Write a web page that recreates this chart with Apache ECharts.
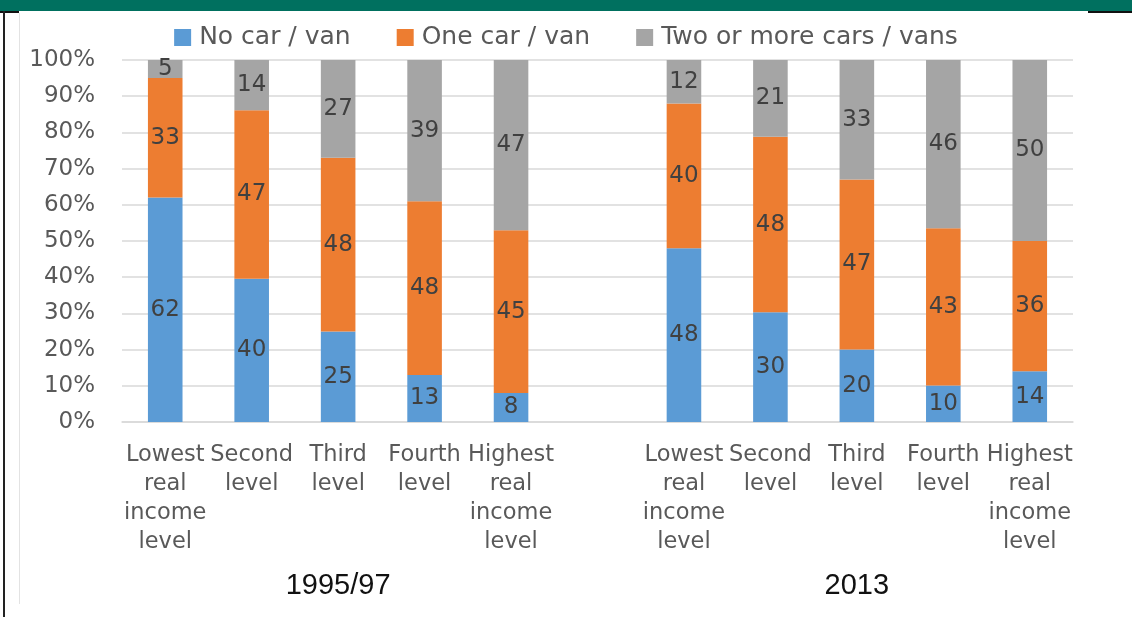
<!DOCTYPE html>
<html>
<head>
<meta charset="utf-8">
<script src="https://cdn.jsdelivr.net/npm/echarts@6/dist/echarts.min.js"></script>
<style>
  html, body { margin: 0; padding: 0; background: #fff; }
  #chart { width: 1132px; height: 617px; }
</style>
</head>
<body>
<div id="chart"></div>
<script>
// categories (an empty slot separates the two survey periods)
const categories = [
  'Lowest\nreal\nincome\nlevel', 'Second\nlevel', 'Third\nlevel', 'Fourth\nlevel', 'Highest\nreal\nincome\nlevel',
  '',
  'Lowest\nreal\nincome\nlevel', 'Second\nlevel', 'Third\nlevel', 'Fourth\nlevel', 'Highest\nreal\nincome\nlevel'
];
const groupLabels = ['', '', '1995/97', '', '', '', '', '', '2013', '', ''];
const seriesNames = ['No car / van', 'One car / van', 'Two or more cars / vans'];
const noCar = [62, 40, 25, 13, 8, null, 48, 30, 20, 10, 14];
const oneCar = [33, 47, 48, 48, 45, null, 40, 48, 47, 43, 36];
const twoCars = [5, 14, 27, 39, 47, null, 12, 21, 33, 46, 50];
const colors = ['#5B9BD5', '#ED7D31', '#A5A5A5'];
const yTicks = [0, 100, 10];

const raw = [noCar, oneCar, twoCars];
// 100% stacked: each column scaled to its own total
const totals = categories.map((c, i) => raw.reduce((s, arr) => s + (arr[i] || 0), 0));
const pct = raw.map(arr => arr.map((v, i) => v == null ? '-' : v / totals[i] * 100));

const textColor = '#595959';
const font = 'DejaVu Sans';

const chart = echarts.init(document.getElementById('chart'));
chart.setOption({
  backgroundColor: '#fff',
  animation: false,
  graphic: [
    { type: 'rect', shape: { x: 0, y: 0, width: 1132, height: 11 }, style: { fill: '#00705F' } },
    { type: 'rect', shape: { x: 0, y: 11, width: 19, height: 2 }, style: { fill: '#111' } },
    { type: 'rect', shape: { x: 1088, y: 11, width: 44, height: 2 }, style: { fill: '#111' } },
    { type: 'rect', shape: { x: 3, y: 11, width: 2, height: 606 }, style: { fill: '#222' } },
    { type: 'rect', shape: { x: 19, y: 13, width: 1, height: 591 }, style: { fill: '#E3E3E3' } }
  ],
  legend: {
    top: 20,
    left: 'center',
    itemWidth: 17,
    itemHeight: 17,
    itemGap: 46,
    icon: 'rect',
    textStyle: { color: textColor, fontSize: 25, fontFamily: font, padding: [0, 0, 0, 3] }
  },
  grid: { left: 122, right: 59, top: 60, bottom: 195 },
  xAxis: [
    {
      type: 'category',
      data: categories,
      axisLine: { lineStyle: { color: '#D9D9D9', width: 1.5 } },
      axisTick: { show: false },
      axisLabel: {
        interval: 0,
        margin: 19,
        color: textColor,
        fontSize: 22.5,
        lineHeight: 29,
        fontFamily: font
      }
    },
    {
      type: 'category',
      position: 'bottom',
      offset: 0,
      data: groupLabels,
      axisLine: { show: false },
      axisTick: { show: false },
      axisLabel: {
        interval: 0,
        margin: 149,
        color: '#111',
        fontSize: 29,
        fontFamily: 'Liberation Sans'
      }
    }
  ],
  yAxis: {
    type: 'value',
    min: yTicks[0],
    max: yTicks[1],
    interval: yTicks[2],
    axisLine: { show: false },
    axisTick: { show: false },
    splitLine: { lineStyle: { color: '#D9D9D9', width: 1.5 } },
    axisLabel: {
      formatter: '{value}%',
      margin: 27,
      color: textColor,
      fontSize: 23,
      fontFamily: font
    }
  },
  series: seriesNames.map((name, k) => ({
    name: name,
    type: 'bar',
    stack: 'total',
    barWidth: '40%',
    itemStyle: { color: colors[k] },
    label: {
      show: true,
      position: 'inside',
      color: '#404040',
      fontSize: 23,
      fontFamily: font,
      formatter: p => raw[k][p.dataIndex]
    },
    data: pct[k]
  }))
});
</script>
</body>
</html>
